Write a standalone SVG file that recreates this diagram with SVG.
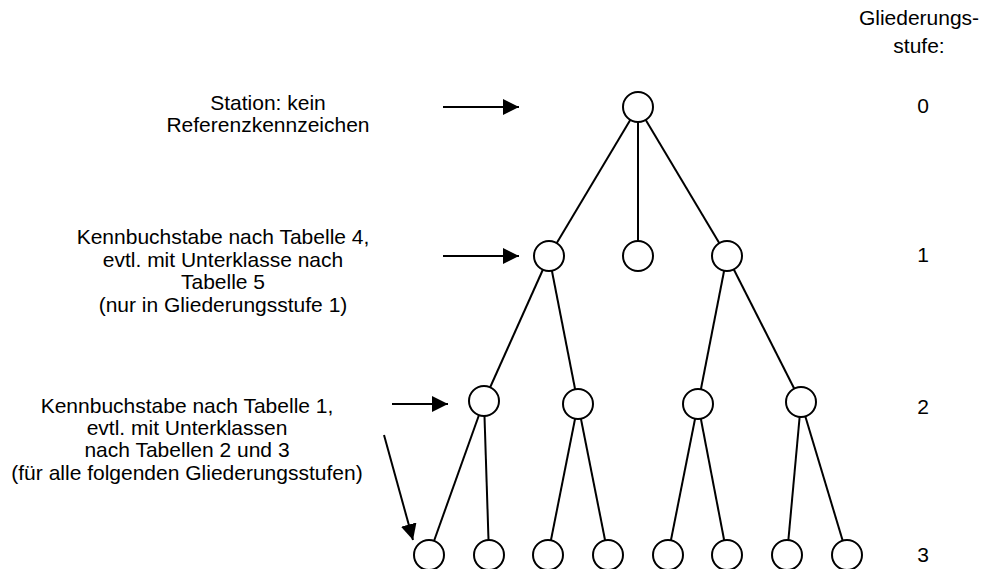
<svg xmlns="http://www.w3.org/2000/svg" width="982" height="569" viewBox="0 0 982 569">
  <style>
    .lbl { font-family: "Liberation Sans", Arial, sans-serif; font-size: 21px; fill: #000; text-anchor: middle; }
    .edge { stroke: #000; stroke-width: 2; fill: none; }
    .node circle { fill: #fff; stroke: #000; stroke-width: 2; }
    .ptr { stroke: #000; stroke-width: 2; fill: none; marker-end: url(#head); }
  </style>
  <defs>
    <marker id="head" markerUnits="userSpaceOnUse" markerWidth="18" markerHeight="16" refX="16" refY="8" orient="auto">
      <path d="M0,0 L16,8 L0,16 Z" fill="#000"/>
    </marker>
  </defs>

  <rect width="982" height="569" fill="#fff"/>

  <!-- tree edges, drawn centre to centre and covered by the node circles -->
  <g id="connectors">
    <line class="edge" x1="638" y1="107" x2="549" y2="256"/>
    <line class="edge" x1="638" y1="107" x2="638" y2="256"/>
    <line class="edge" x1="638" y1="107" x2="727" y2="256"/>

    <line class="edge" x1="549" y1="256" x2="484" y2="401"/>
    <line class="edge" x1="549" y1="256" x2="578" y2="404"/>
    <line class="edge" x1="727" y1="256" x2="698" y2="404"/>
    <line class="edge" x1="727" y1="256" x2="801" y2="402"/>

    <line class="edge" x1="484" y1="401" x2="429" y2="555"/>
    <line class="edge" x1="484" y1="401" x2="489" y2="555"/>
    <line class="edge" x1="578" y1="404" x2="548" y2="555"/>
    <line class="edge" x1="578" y1="404" x2="608" y2="555"/>
    <line class="edge" x1="698" y1="404" x2="668" y2="555"/>
    <line class="edge" x1="698" y1="404" x2="727" y2="555"/>
    <line class="edge" x1="801" y1="402" x2="787" y2="555"/>
    <line class="edge" x1="801" y1="402" x2="847" y2="555"/>

    <!-- pointer arrows from the descriptions -->
    <line class="ptr" x1="443" y1="107" x2="519" y2="107"/>
    <line class="ptr" x1="443" y1="256" x2="519" y2="256"/>
    <line class="ptr" x1="392" y1="404" x2="448" y2="404"/>
    <line class="ptr" x1="384" y1="435" x2="413" y2="540"/>
  </g>

  <!-- nodes -->
  <g id="n0" class="node"><circle cx="638" cy="107" r="15"/></g>

  <g id="n1a" class="node"><circle cx="549" cy="256" r="15"/></g>
  <g id="n1b" class="node"><circle cx="638" cy="256" r="15"/></g>
  <g id="n1c" class="node"><circle cx="727" cy="256" r="15"/></g>

  <g id="n2a" class="node"><circle cx="484" cy="401" r="15"/></g>
  <g id="n2b" class="node"><circle cx="578" cy="404" r="15"/></g>
  <g id="n2c" class="node"><circle cx="698" cy="404" r="15"/></g>
  <g id="n2d" class="node"><circle cx="801" cy="402" r="15"/></g>

  <g id="n3a" class="node"><circle cx="429" cy="555" r="15"/></g>
  <g id="n3b" class="node"><circle cx="489" cy="555" r="15"/></g>
  <g id="n3c" class="node"><circle cx="548" cy="555" r="15"/></g>
  <g id="n3d" class="node"><circle cx="608" cy="555" r="15"/></g>
  <g id="n3e" class="node"><circle cx="668" cy="555" r="15"/></g>
  <g id="n3f" class="node"><circle cx="727" cy="555" r="15"/></g>
  <g id="n3g" class="node"><circle cx="787" cy="555" r="15"/></g>
  <g id="n3h" class="node"><circle cx="847" cy="555" r="15"/></g>

  <!-- descriptions -->
  <g id="desc0">
    <text class="lbl" x="268" y="110">Station: kein</text>
    <text class="lbl" x="268" y="132">Referenzkennzeichen</text>
  </g>
  <g id="desc1">
    <text class="lbl" x="223" y="244">Kennbuchstabe nach Tabelle 4,</text>
    <text class="lbl" x="223" y="267">evtl. mit Unterklasse nach</text>
    <text class="lbl" x="223" y="289">Tabelle 5</text>
    <text class="lbl" x="223" y="312">(nur in Gliederungsstufe 1)</text>
  </g>
  <g id="desc2">
    <text class="lbl" x="187" y="413">Kennbuchstabe nach Tabelle 1,</text>
    <text class="lbl" x="187" y="435">evtl. mit Unterklassen</text>
    <text class="lbl" x="187" y="457">nach Tabellen 2 und 3</text>
    <text class="lbl" x="187" y="480">(für alle folgenden Gliederungsstufen)</text>
  </g>

  <!-- level scale -->
  <g id="levels">
    <text class="lbl" x="919" y="25">Gliederungs-</text>
    <text class="lbl" x="919" y="53">stufe:</text>
    <text class="lbl" x="923" y="113">0</text>
    <text class="lbl" x="923" y="262">1</text>
    <text class="lbl" x="923" y="414">2</text>
    <text class="lbl" x="923" y="562">3</text>
  </g>
</svg>
